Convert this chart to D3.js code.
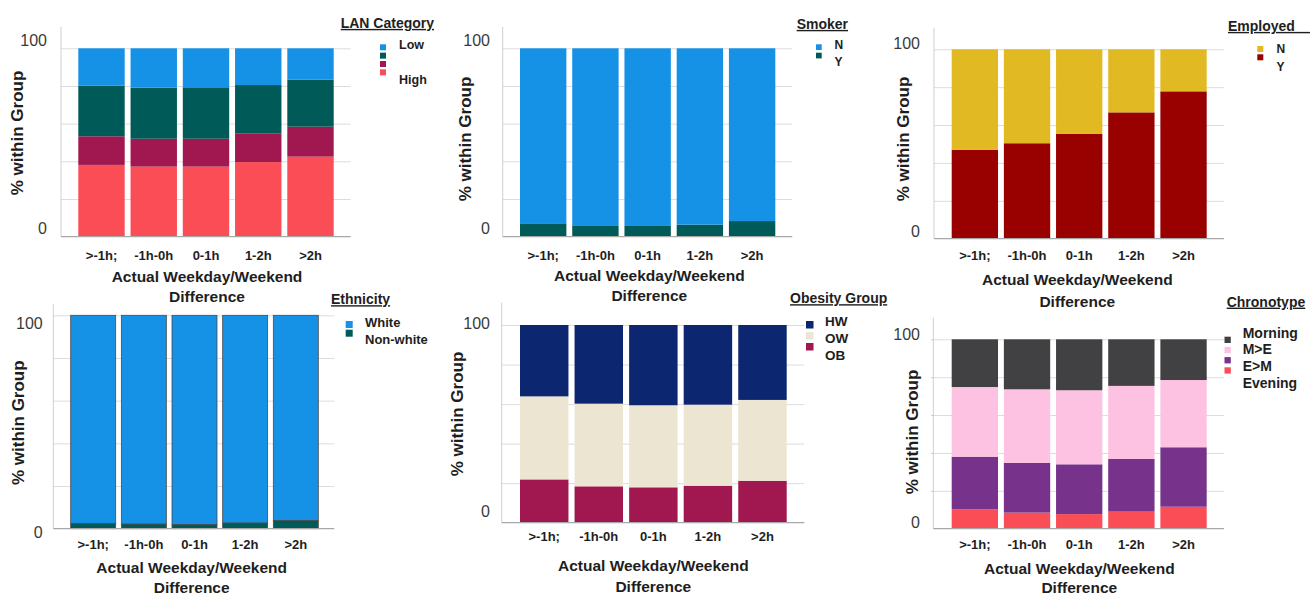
<!DOCTYPE html>
<html><head><meta charset="utf-8">
<script src="https://cdn.jsdelivr.net/npm/d3@7/dist/d3.min.js"></script>
<style>
html,body{margin:0;padding:0;background:#fff;}
svg{display:block;}
text{font-family:"Liberation Sans",Arial,sans-serif;}
</style></head>
<body>
<svg id="chart" width="1310" height="596"></svg>
<script>
// ---------- DATA ----------
const categories = [">-1h;", "-1h-0h", "0-1h", "1-2h", ">2h"];
const yTickLabels = [0, 100];
const gridTicks = [20, 40, 60, 80, 100];

// LAN Category (legend order top -> bottom)
const lanKeys = ["Low", "", " ", "High"];
const lanLow = [19.8, 20.9, 20.7, 19.5, 16.6];
const lanMidLow = [26.9, 27.1, 27.3, 25.6, 25.0];
const lanMidHigh = [15.2, 14.8, 14.8, 15.3, 15.9];
const lanHigh = [38.1, 37.2, 37.2, 39.6, 42.5];

// Smoker
const smokerKeys = ["N", "Y"];
const smokerN = [92.9, 94.3, 94.3, 93.6, 91.7];
const smokerY = [7.1, 5.7, 5.7, 6.4, 8.3];

// Employed
const employedKeys = ["N", "Y"];
const employedN = [53.0, 49.6, 44.7, 33.3, 22.2];
const employedY = [47.0, 50.4, 55.3, 66.7, 77.8];

// Ethnicity
const ethnicityKeys = ["White", "Non-white"];
const ethWhite = [97.5, 97.8, 98.0, 97.3, 96.1];
const ethNonWhite = [2.5, 2.2, 2.0, 2.7, 3.9];

// Obesity Group
const obesityKeys = ["HW", "OW", "OB"];
const obHW = [36.1, 39.8, 40.6, 40.3, 37.9];
const obOW = [42.0, 41.8, 41.5, 41.0, 40.9];
const obOB = [21.9, 18.4, 17.9, 18.7, 21.2];

// Chronotype
const chronoKeys = ["Morning", "M>E", "E>M", "Evening"];
const chMorning = [25.2, 26.4, 26.9, 24.6, 21.5];
const chME = [36.8, 38.9, 39.1, 38.6, 35.5];
const chEM = [27.8, 26.2, 26.3, 27.8, 31.4];
const chEvening = [10.2, 8.5, 7.7, 9.0, 11.6];

// ---------- PANELS ----------
const panels = [
  { title: "LAN Category", keys: lanKeys, series: [lanLow, lanMidLow, lanMidHigh, lanHigh],
    colors: ["#1591e5", "#005a57", "#a0184f", "#fa4d56"],
    L: {x0:78.3, x1:333.7, ax:61, right:350.7, y100:48.3, y0:236.7, top:27,
        tlx:47, t100:40.7, t0:228.3, xly:255, ytx:16.7, yty:133, xtx:207, xt1:276.7, xt2:296.7,
        lgx:340.7, lgy:23, sqx:380, sqy:44.3, sqs:8.35, sqz:6, lbx:399, lby:45, lbs:11.7, lbf:12.5 } },
  { title: "Smoker", keys: smokerKeys, series: [smokerN, smokerY],
    colors: ["#1591e5", "#005a57"],
    L: {x0:520, x1:775.3, ax:502.7, right:792.3, y100:48.3, y0:236.7, top:27,
        tlx:490, t100:40.7, t0:228.3, xly:255, ytx:465, yty:139, xtx:649.3, xt1:276, xt2:296,
        lgx:796.7, lgy:24, sqx:816, sqy:44.3, sqs:8.4, sqz:5.7, lbx:834.5, lby:45, lbs:17, lbf:12 } },
  { title: "Employed__", keys: employedKeys, series: [employedN, employedY],
    colors: ["#e1b922", "#990000"],
    L: {x0:951.7, x1:1206.7, ax:934, right:1224, y100:49.3, y0:238.7, top:28,
        tlx:920, t100:43.3, t0:231.7, xly:255, ytx:903.3, yty:139, xtx:1077.3, xt1:280, xt2:301.7,
        lgx:1228, lgy:26, sqx:1257.3, sqy:46, sqs:8.3, sqz:6, lbx:1276.5, lby:49, lbs:17.7, lbf:12 } },
  { title: "Ethnicity", keys: ethnicityKeys, series: [ethWhite, ethNonWhite],
    colors: ["#1591e5", "#005a57"], outline: "#4a4a4a",
    L: {x0:70.7, x1:318.3, ax:53.3, right:334.3, y100:315.3, y0:528.7, top:304.3,
        tlx:42.7, t100:323.3, t0:532.7, xly:544.3, ytx:18.3, yty:422.7, xtx:191.7, xt1:568, xt2:587.3,
        lgx:331, lgy:299.3, sqx:345.7, sqy:321, sqs:8.7, sqz:7, lbx:365, lby:322, lbs:17.3, lbf:13 } },
  { title: "Obesity Group", keys: obesityKeys, series: [obHW, obOW, obOB],
    colors: ["#0c2670", "#ebe5d1", "#a0184f"],
    L: {x0:520, x1:786.7, ax:501.7, right:804.3, y100:325, y0:522.7, top:302.7,
        tlx:490, t100:323.3, t0:511, xly:536.7, ytx:456.7, yty:414, xtx:653.3, xt1:566, xt2:586.5,
        lgx:790, lgy:298.3, sqx:806, sqy:321, sqs:11, sqz:7.5, lbx:825, lby:321.7, lbs:16.7, lbf:13.5 } },
  { title: "Chronotype", keys: chronoKeys, series: [chMorning, chME, chEM, chEvening],
    colors: ["#414143", "#fdc1e1", "#77338b", "#fa4d56"], yticks: true,
    L: {x0:951.7, x1:1206.7, ax:933.3, right:1224, y100:339.3, y0:528.7, top:317.7,
        tlx:920, t100:334.3, t0:522.7, xly:544.3, ytx:911.7, yty:432, xtx:1079.3, xt1:568.5, xt2:587.3,
        lgx:1226.7, lgy:301.7, sqx:1224.5, sqy:336.7, sqs:10.2, sqz:6.3, lbx:1242.7, lby:332.7, lbs:16.7, lbf:14 } }
];

const svg = d3.select("#chart");

panels.forEach(p => {
  const L = p.L;
  const g = svg.append("g");
  const x = d3.scaleBand().domain(categories).range([L.x0, L.x1]).paddingInner(0.112).paddingOuter(0);
  const y = d3.scaleLinear().domain([0, 100]).range([L.y0, L.y100]);

  // gridlines
  const grid = g.append("g").attr("transform", `translate(${L.ax},0)`)
    .call(d3.axisLeft(y).tickValues(gridTicks).tickSize(-(L.right - L.ax)).tickFormat(""));
  grid.select(".domain").remove();
  grid.selectAll(".tick line").attr("stroke", "#dcdcdc").attr("stroke-width", 1);
  if (p.yticks) {
    grid.selectAll(".tick").append("line").attr("x1", -2).attr("x2", 0).attr("stroke", "#bbb");
  }

  // vertical axis line
  g.append("line").attr("x1", L.ax).attr("x2", L.ax).attr("y1", L.top).attr("y2", L.y0)
    .attr("stroke", "#cfcfcf").attr("stroke-width", 1);

  // stacked bars: legend order top->bottom, so stack reversed
  const n = p.series.length;
  const rows = categories.map((c, i) => {
    const o = { cat: c };
    p.series.forEach((s, k) => { o["k" + k] = s[i]; });
    return o;
  });
  const stackKeys = d3.range(n).reverse().map(k => "k" + k);
  const stacked = d3.stack().keys(stackKeys)(rows);
  stacked.forEach(layer => {
    const k = +layer.key.slice(1);
    g.append("g").selectAll("rect").data(layer).join("rect")
      .attr("x", d => x(d.data.cat))
      .attr("width", x.bandwidth())
      .attr("y", d => y(d[1]))
      .attr("height", d => y(d[0]) - y(d[1]))
      .attr("fill", p.colors[k])
      .attr("stroke", p.outline || "none")
      .attr("stroke-width", p.outline ? 0.8 : 0);
  });

  // baseline
  g.append("line").attr("x1", L.ax).attr("x2", L.right).attr("y1", L.y0).attr("y2", L.y0)
    .attr("stroke", "#a8a8a8").attr("stroke-width", 1.2);

  // y tick labels (0, 100)
  const yAx = g.append("g").attr("transform", `translate(${L.tlx},0)`)
    .call(d3.axisLeft(y).tickValues(yTickLabels).tickSize(0).tickPadding(0));
  yAx.select(".domain").remove();
  yAx.selectAll(".tick").attr("transform", d => `translate(0,${d === 100 ? L.t100 : L.t0})`);
  yAx.selectAll(".tick text").attr("font-family", "'Open Sans', 'Liberation Sans', sans-serif")
    .attr("font-size", 16).attr("fill", "#3a3a3a").attr("dy", "0.35em").attr("text-anchor", "end");

  // x tick labels
  const xAx = g.append("g").attr("transform", `translate(0,${L.xly})`)
    .call(d3.axisBottom(x).tickSize(0).tickPadding(0));
  xAx.select(".domain").remove();
  xAx.selectAll(".tick text").attr("font-size", 13).attr("font-weight", "bold")
    .attr("fill", "#1e1e1e").attr("y", 0).attr("dy", "0.35em");

  // y title
  g.append("text").attr("transform", `translate(${L.ytx},${L.yty}) rotate(-90)`)
    .attr("text-anchor", "middle").attr("dy", "0.35em")
    .attr("font-size", 17).attr("font-weight", "bold").attr("fill", "#1e1e1e")
    .text("% within Group");

  // x title
  g.append("text").attr("x", L.xtx).attr("y", L.xt1).attr("dy", "0.35em").attr("text-anchor", "middle")
    .attr("font-size", 15.5).attr("font-weight", "bold").attr("fill", "#1e1e1e")
    .text("Actual Weekday/Weekend");
  g.append("text").attr("x", L.xtx).attr("y", L.xt2).attr("dy", "0.35em").attr("text-anchor", "middle")
    .attr("font-size", 15.5).attr("font-weight", "bold").attr("fill", "#1e1e1e")
    .text("Difference");

  // legend
  g.append("text").attr("x", L.lgx).attr("y", L.lgy).attr("dy", "0.35em")
    .attr("font-size", 14).attr("font-weight", "bold").attr("fill", "#1e1e1e")
    .attr("text-decoration", "underline").text(p.title);
  p.keys.forEach((key, i) => {
    g.append("rect").attr("x", L.sqx).attr("y", L.sqy + i * L.sqs)
      .attr("width", L.sqz).attr("height", L.sqz).attr("fill", p.colors[i]);
  });
  // labels spaced by lbs; for LAN the blank entries still occupy slots
  p.keys.forEach((key, i) => {
    if (key.trim() === "") return;
    g.append("text").attr("x", L.lbx).attr("y", L.lby + i * L.lbs).attr("dy", "0.35em")
      .attr("font-size", L.lbf).attr("font-weight", "bold").attr("fill", "#1e1e1e").text(key);
  });
});
</script>
</body></html>
